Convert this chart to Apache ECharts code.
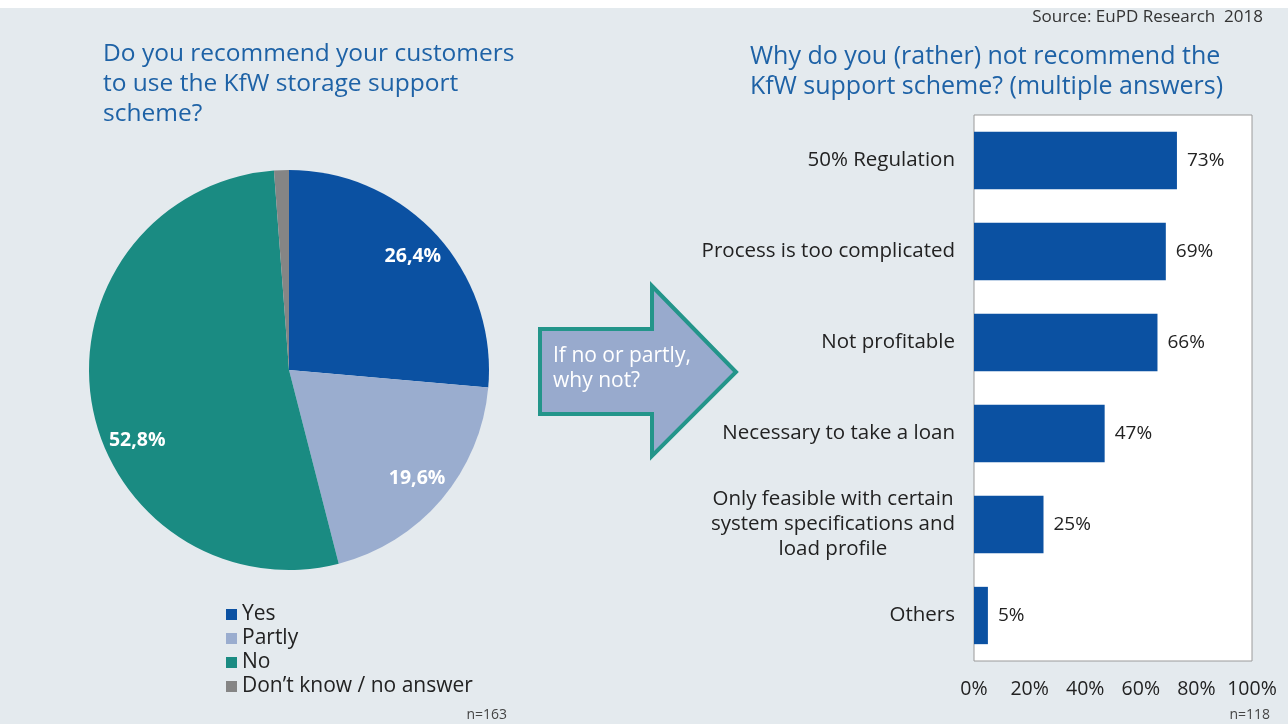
<!DOCTYPE html>
<html>
<head>
<meta charset="utf-8">
<script src="https://cdn.jsdelivr.net/npm/echarts@6/dist/echarts.min.js"></script>
<style>html,body{margin:0;padding:0;background:#fff}#c{width:1288px;height:724px}</style>
</head>
<body>
<div id="c"></div>
<script>
// ---- data ----
const pieCategories = ['Yes', 'Partly', 'No', 'Don’t know / no answer'];
const pieValues = [26.4, 19.6, 52.8, 1.2];
const pieLabels = ['26,4%', '19,6%', '52,8%', ''];
const pieColors = ['#0b51a2', '#9aadcf', '#1a8b82', '#858585'];

const barCategories = ['50% Regulation', 'Process is too complicated', 'Not profitable',
  'Necessary to take a loan', 'Only feasible with certain\nsystem specifications and\nload profile', 'Others'];
const barValues = [73, 69, 66, 47, 25, 5];
const xTicks = [0, 20, 40, 60, 80, 100];

const FONT = '"Open Sans", "Noto Sans", sans-serif';
const chart = echarts.init(document.getElementById('c'));

const pieData = pieCategories.map((n, i) => ({ name: n, value: pieValues[i], itemStyle: { color: pieColors[i] } }));
const labelData = pieCategories.map((n, i) => ({
  name: n, value: pieValues[i],
  label: { formatter: pieLabels[i], offset: i === 2 ? [14, 43] : [0, 0] }
}));

chart.setOption({
  backgroundColor: '#e4eaee',
  textStyle: { fontFamily: FONT },
  graphic: [
    { type: 'rect', shape: { x: 0, y: 0, width: 1288, height: 8 }, style: { fill: '#ffffff' } },
    { type: 'text', left: 103, top: 39, style: { text: 'Do you recommend your customers\nto use the KfW storage support\nscheme?', font: '24.5px ' + FONT, fill: '#1e62a6', lineHeight: 30 } },
    { type: 'text', left: 750, top: 42, style: { text: 'Why do you (rather) not recommend the\nKfW support scheme? (multiple answers)', font: '25px ' + FONT, fill: '#1e62a6', lineHeight: 30 } },
    { type: 'text', right: 25, top: 9, style: { text: 'Source: EuPD Research  2018', font: '17px ' + FONT, fill: '#333' } },
    { type: 'polygon', shape: { points: [[540, 329], [652, 329], [652, 286], [736, 372], [652, 456], [652, 414], [540, 414]] },
      style: { fill: '#98aacd', stroke: '#23958a', lineWidth: 4 } },
    { type: 'text', left: 553, top: 344, style: { text: 'If no or partly,\nwhy not?', font: '21px ' + FONT, fill: '#ffffff', lineHeight: 25 } },
    { type: 'text', right: 781, top: 708, style: { text: 'n=163', font: '14px ' + FONT, fill: '#444' } },
    { type: 'text', right: 18, top: 708, style: { text: 'n=118', font: '14px ' + FONT, fill: '#444' } }
  ],
  legend: {
    data: pieCategories,
    orient: 'vertical', left: 221, top: 599,
    icon: 'rect', itemWidth: 11, itemHeight: 11, itemGap: 3,
    textStyle: { fontSize: 21, color: '#222', fontFamily: FONT, padding: [0, 0, 0, 0] },
    selectedMode: false
  },
  grid: {
    left: 974, right: 36, top: 115, bottom: 63,
    show: true, backgroundColor: '#ffffff', borderColor: '#9a9a9a', borderWidth: 1
  },
  xAxis: {
    type: 'value', min: 0, max: 100, interval: 20,
    axisLine: { show: false }, axisTick: { show: false }, splitLine: { show: false },
    axisLabel: { formatter: '{value}%', fontSize: 19.5, color: '#222', margin: 18, fontFamily: FONT }
  },
  yAxis: {
    type: 'category', data: barCategories, inverse: true,
    axisLine: { show: false }, axisTick: { show: false },
    axisLabel: {
      fontSize: 20.5, color: '#222', margin: 19, fontFamily: FONT,
      formatter: v => v.split('\n').map(s => '{c|' + s + '}').join('\n'),
      rich: { c: { align: 'center', fontSize: 20.5, color: '#222', lineHeight: 25, fontFamily: FONT } }
    }
  },
  series: [
    {
      type: 'pie', center: [289, 370], radius: [0, 200], startAngle: 90, clockwise: true,
      data: pieData, label: { show: false }, labelLine: { show: false }, silent: true
    },
    {
      type: 'pie', center: [289, 370], radius: [130, 200], startAngle: 90, clockwise: true,
      data: labelData, itemStyle: { color: 'transparent' }, silent: true,
      label: { show: true, position: 'inside', color: '#ffffff', fontSize: 19.5, fontWeight: 'bold', fontFamily: FONT },
      labelLine: { show: false }, legendHoverLink: false
    },
    {
      type: 'bar', data: barValues, barCategoryGap: '37%',
      itemStyle: { color: '#0b51a2' },
      label: { show: true, position: 'right', distance: 10, formatter: '{c}%', fontSize: 19, color: '#222', fontFamily: FONT },
      silent: true
    }
  ]
});
</script>
</body>
</html>
